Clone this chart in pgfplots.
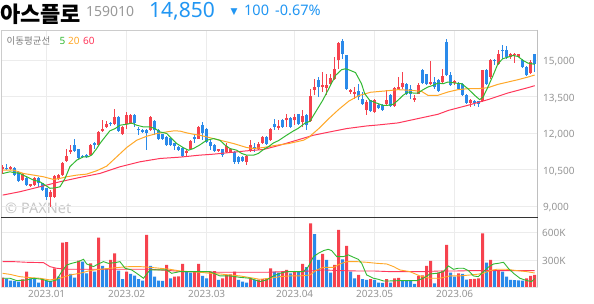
\documentclass[border=0pt]{standalone}
\usepackage{fontspec}
\setmainfont{Noto Sans}
\newfontfamily\kr{Noto Sans CJK KR}
\newfontfamily\sym{DejaVu Sans}
\usepackage{pgfplots}
\usepackage{pgfplotstable}
\pgfplotsset{compat=1.18}
\definecolor{upc}{RGB}{246,66,78}
\definecolor{dnc}{RGB}{42,138,234}
\definecolor{ma5}{RGB}{50,185,50}
\definecolor{ma20}{RGB}{255,168,40}
\definecolor{ma60}{RGB}{255,55,90}
\definecolor{gridc}{RGB}{236,236,236}
\definecolor{tickc}{RGB}{150,150,150}
\definecolor{titleblue}{RGB}{33,150,243}
\definecolor{codegray}{RGB}{153,153,153}

\pgfplotstableread{
x o h l c
-11 10510 10690 10320 10590
-9 10510 10650 10480 10620
-6 10070 10380 10030 10340
-4 9820 9920 9790 9890
-3 9860 10200 9830 10140
1 9380 9660 8970 9590
2 9380 10280 9350 10230
3 10100 10310 10060 10270
4 10270 10820 10240 10780
5 10860 11370 10820 11070
6 11230 11510 11160 11300
11 11100 11560 11060 11530
13 11510 12090 11470 12060
14 12100 12530 12060 12190
15 12260 12510 12230 12400
17 12400 13010 12330 12670
19 11960 12300 11930 12260
20 12400 12880 12190 12740
21 12400 12780 12360 12740
26 12150 12710 12110 12670
35 11190 11370 11030 11260
36 11370 11720 11340 11690
38 11780 12300 11750 12260
43 11260 11370 11230 11330
45 11230 11600 11200 11470
46 11210 11360 11170 11330
50 10820 11090 10710 11060
51 11300 11740 11230 11510
53 11330 11640 11300 11550
54 11600 11880 11570 11850
56 11710 12230 11680 12190
58 12220 12530 12120 12290
60 12530 12810 12260 12630
62 12530 12810 12330 12670
64 12470 12950 12260 12700
66 12510 13840 12470 13520
67 13800 14250 13560 13900
69 13900 14520 13700 13970
70 13880 14450 13560 13970
71 14040 14430 13970 14290
72 14250 15140 14180 14660
73 15000 15750 14660 15710
76 13700 13840 13630 13800
77 13630 13900 13430 13700
80 12950 13360 12740 13290
82 12880 13430 12850 13360
85 13220 13770 13150 13380
87 13110 13900 13080 13880
88 13800 14320 13770 13900
89 13900 14520 13840 14070
92 13360 13560 13290 13450
93 13630 14070 13600 13970
96 14040 14970 13970 14110
99 14110 14660 14040 14340
102 14070 14180 13970 14150
106 13250 13430 13080 13360
109 13330 14620 13300 14590
111 14320 15070 14250 15000
113 14860 15440 14800 15270
116 15140 15300 15070 15250
117 15210 15300 14890 15270
118 15160 15270 15140 15250
121 14480 15030 14450 14950
}\upT

\pgfplotstableread{
x o h l c
-10 10580 10750 10480 10510
-8 10580 10620 10230 10270
-7 10410 10450 10000 10040
-5 10140 10180 9830 9860
-2 10140 10210 9790 9930
-1 9930 9960 9620 9660
0 9730 9760 9250 9380
7 11510 11750 11230 11270
8 11330 11370 10950 10990
9 11060 11090 10960 11000
10 11100 11130 10960 11000
12 11580 11640 11340 11510
16 12420 12460 12300 12360
18 12670 12710 12060 12100
22 12740 12810 12260 12420
23 12190 12260 11920 12120
24 12120 12160 12020 12060
25 12120 12190 11300 12010
27 12510 12530 11920 12120
28 12150 12190 11750 11780
29 11950 11980 11750 11780
30 11850 11880 11470 11510
31 11810 11840 11470 11510
32 11580 11600 11300 11470
33 11440 11470 11270 11300
34 11410 11440 11020 11060
37 11850 11920 11580 11750
39 12330 12470 11710 11990
40 12190 12230 11610 11640
41 11640 11710 11300 11470
42 11510 11540 11240 11270
44 11330 11360 11030 11100
47 11230 11260 10750 10820
48 11030 11060 10750 10820
49 11030 11060 10830 10860
52 11440 11580 11230 11330
55 11850 11880 11510 11550
57 12400 12600 12120 12260
59 12530 12570 12230 12260
61 12640 12680 12230 12260
63 12780 12810 12340 12370
65 12740 12810 12120 12330
68 14210 14320 13490 13900
74 15820 15890 15070 15270
75 15210 15240 13800 13840
78 13760 14040 13360 13490
79 13430 13700 13150 13220
81 13360 13390 12890 12920
83 13150 13190 13020 13060
84 13150 13190 12900 12950
86 13560 13600 13080 13110
90 14040 14070 13560 13630
91 13840 13970 13430 13630
94 14620 14650 14040 14070
95 14430 14460 14010 14040
97 14110 14320 13840 13900
98 14210 14240 13710 13740
100 15750 15890 14350 14380
101 14380 14520 13930 13970
103 14070 14110 13800 13840
104 14040 14070 13560 13590
105 13560 13600 13220 13250
107 13330 13360 13110 13250
108 13320 13340 13080 13220
110 14590 14660 13970 14040
112 15030 15070 14800 14970
114 15440 15620 15070 15380
115 15410 15580 15070 15140
119 15000 15070 14700 14730
120 14730 14760 14350 14380
122 15250 15270 14520 14850
}\dnT

% volume in thousands; red = volume up, blue = volume down
\pgfplotstableread{
x v
-11 110
-6 93
-5 175
-1 96
2 211
4 486
5 490
8 293
11 264
13 539
16 300
17 371
20 175
25 568
30 246
32 121
33 125
34 257
37 175
38 257
41 175
42 180
44 104
45 139
46 145
47 175
51 104
53 90
54 95
55 104
56 211
59 175
60 193
62 175
64 257
66 693
69 364
72 246
73 621
75 450
78 139
81 96
85 96
87 104
88 108
93 129
94 135
95 236
96 289
98 164
99 186
100 461
103 157
106 95
107 98
108 102
109 586
111 300
113 190
120 104
121 129
122 139
}\vupT

\pgfplotstableread{
x v
-10 100
-9 79
-8 75
-7 68
-4 104
-3 100
-2 57
0 79
1 75
3 121
6 150
7 111
9 282
10 157
12 175
14 236
15 211
18 186
19 96
21 150
22 132
23 96
24 79
26 236
27 121
28 79
29 75
31 104
35 175
36 164
39 129
40 104
43 86
48 86
49 68
50 57
52 86
57 175
58 164
61 157
63 170
65 222
67 578
68 300
70 300
71 164
74 307
76 175
77 104
79 96
80 86
82 86
83 57
84 55
86 57
89 79
90 77
91 75
92 43
97 50
101 164
102 121
104 150
105 90
110 271
112 186
114 175
115 121
116 86
117 84
118 82
119 78
}\vdnT

\pgfplotsset{
  candle/.style={only marks, mark=*, mark size=0pt, mark options={draw=none, fill=none}, forget plot},
}

\begin{document}
\begin{tikzpicture}
\useasboundingbox (0pt,0pt) rectangle (594pt,304pt);
\fill[white] (0pt,0pt) rectangle (594pt,304pt);

% title
\node[anchor=west, inner sep=0pt] at (0pt,289.5pt) {\fontsize{22}{24}\selectfont\kr\bfseries 아스플로};
\node[anchor=base west, inner sep=0pt, text=codegray] at (86pt,287.3pt) {\fontsize{14}{16}\selectfont 159010};
\node[anchor=base west, inner sep=0pt, text=titleblue] at (149pt,286.5pt) {\fontsize{21}{24}\selectfont 14,850};
\node[anchor=center, inner sep=0pt, text=titleblue] at (234pt,292pt) {\fontsize{9}{10}\selectfont\sym ▼};
\node[anchor=base west, inner sep=0pt, text=titleblue] at (244pt,288pt) {\fontsize{14.5}{16}\selectfont 100};
\node[anchor=base west, inner sep=0pt, text=titleblue] at (275pt,288pt) {\fontsize{14.5}{16}\selectfont -0.67\%};

% watermark
\node[anchor=west, inner sep=0pt, text=black!22] at (5pt,96pt) {\fontsize{14.5}{16}\selectfont\bfseries © PAXNet};

\begin{axis}[
  at={(1pt,86.7pt)}, anchor=south west,
  width=536.7pt, height=187.3pt, scale only axis,
  xmin=-11.425, xmax=122.75, ymin=8535, ymax=16255,
  axis line style={draw=none}, major tick length=0pt,
  xtick={0,20,40,62,82,102}, xticklabels={,,,,,},
  scaled y ticks=false,
  ytick={9000,10500,12000,13500,15000},
  yticklabels={{9,000},{10,500},{12,000},{13,500},{15,000}},
  yticklabel pos=right,
  yticklabel style={anchor=west, inner sep=0pt, xshift=5.3pt, yshift=-1.5pt},
  tick label style={font=\fontsize{10}{12}\selectfont, text=tickc},
  grid=major, major grid style={color=gridc, line width=0.8pt},
]
% wicks
\addplot[candle, error bars/.cd, y dir=both, y explicit, error mark=none, error bar style={line width=1pt, color=upc}]
  table[x=x, y=c, y error plus expr=\thisrow{h}-\thisrow{c}, y error minus expr=\thisrow{c}-\thisrow{l}] {\upT};
\addplot[candle, error bars/.cd, y dir=both, y explicit, error mark=none, error bar style={line width=1pt, color=dnc}]
  table[x=x, y=c, y error plus expr=\thisrow{h}-\thisrow{c}, y error minus expr=\thisrow{c}-\thisrow{l}] {\dnT};
% bodies
\addplot[candle, error bars/.cd, y dir=plus, y explicit, error mark=none, error bar style={line width=3pt, color=upc}]
  table[x=x, y=o, y error plus expr=\thisrow{c}-\thisrow{o}, y error minus expr=0] {\upT};
\addplot[candle, error bars/.cd, y dir=plus, y explicit, error mark=none, error bar style={line width=3pt, color=dnc}]
  table[x=x, y=c, y error plus expr=\thisrow{o}-\thisrow{c}, y error minus expr=0] {\dnT};
% moving averages
\addplot[no marks, color=ma60, line width=1pt] coordinates {
(-11,9450) (-6.7,9589) (-1.7,9794) (3.3,10000) (8.3,10178) (13.3,10342) (18.3,10616) (23.3,10822) (28.3,10959) (33.3,11014) (38.2,11096) (41.7,11137) (50,11274) (54.2,11329) (58.3,11507) (62.5,11712) (66.7,11918) (70.8,12055) (75,12192) (80,12300) (82.8,12340) (87.8,12425) (92.8,12603) (97.8,12781) (100.5,12945) (105.3,13151) (110.3,13384) (115.3,13658) (120.3,13877) (122,13960)};
\addplot[no marks, color=ma20, line width=1pt] coordinates {
(-11,10480) (-8.3,10480) (-5.8,10340) (-3.3,10275) (-0.8,10205) (1.7,10095) (3.3,10137) (5,10205) (7.5,10274) (10,10315) (12.5,10452) (15,10644) (17.5,11027) (20,11411) (22.5,11712) (25,11876) (27.5,11986) (30,12055) (31.7,12096) (33.3,12090) (35,12014) (36.7,11959) (38.2,11918) (40,11849) (43.3,11712) (46.7,11575) (50,11411) (51.7,11370) (54.2,11411) (57.5,11507) (60.5,11575) (64.2,11712) (65.5,11830) (68,12190) (70.5,12600) (73,12980) (75.5,13320) (78,13550) (81,13690) (84.5,13740) (87.8,13795) (91.2,13767) (93.7,13726) (95.3,13562) (97.8,13562) (100.3,13699) (102.8,13795) (105.3,13836) (107.8,13836) (110.3,13877) (112.8,14014) (115.3,14110) (117.8,14206) (120.3,14315) (122,14400)};
\addplot[no marks, color=ma5, line width=1pt] coordinates {
(-11,10340) (-9.2,10410) (-6.7,10340) (-5,10205) (-3.3,10070) (-1.7,10000) (0,9820) (0.8,9730) (2.1,9750) (3.3,9790) (4.6,10140) (5.8,10620) (7.5,10890) (9.2,11030) (10.4,11030) (11.25,11100) (12.5,11370) (13.3,11575) (14.6,11850) (15.8,12100) (17.1,12190) (18.3,12330) (20,12370) (21.25,12420) (22.5,12330) (24.2,12260) (25.8,12260) (27.1,12190) (28.3,12055) (30,11990) (31.25,11780) (32.5,11575) (34.2,11400) (35.4,11300) (36.7,11370) (38.2,11510) (40,11710) (41.7,11780) (43.3,11710) (44.6,11510) (45.8,11370) (47.5,11300) (48.75,11165) (50,11095) (51.7,11095) (52.9,11165) (54.2,11330) (55.4,11440) (56.7,11600) (58,11700) (60,11920) (61.7,12096) (62.8,12192) (64.6,12420) (65.8,12490) (67.2,12870) (69,13356) (70.5,13830) (72.2,14380) (73.7,14617) (74.7,14658) (75.75,14600) (77.2,14500) (78.7,14041) (79.5,13630) (80.75,13356) (82.4,13247) (84,13151) (85.3,13151) (86.6,13192) (87.8,13356) (89.1,13562) (90.3,13699) (91.6,13658) (92.8,13658) (94.1,13795) (95.3,13904) (96.6,13973) (97.8,14069) (99.1,14041) (100.3,14110) (102,14069) (103.7,14041) (105.3,13836) (107,13562) (108.25,13384) (109.1,13493) (110.3,13904) (111.6,14384) (112.8,14863) (114,15069) (115.3,15137) (116.6,15206) (117.8,15164) (119.1,15000) (120.3,14890) (122,14840)};
\end{axis}

\begin{axis}[
  at={(1pt,16.5pt)}, anchor=south west,
  width=536.7pt, height=70.2pt, scale only axis,
  xmin=-11.425, xmax=122.75, ymin=5, ymax=757,
  axis line style={draw=none}, major tick length=0pt,
  xtick={0,20,40,62,82,102},
  xticklabels={2023.01,2023.02,2023.03,2023.04,2023.05,2023.06},
  xticklabel style={anchor=center, inner sep=0pt, yshift=-6.2pt},
  ytick={300,600}, yticklabels={300K,600K},
  yticklabel pos=right,
  yticklabel style={anchor=west, inner sep=0pt, xshift=4.3pt, yshift=-1pt},
  tick label style={font=\fontsize{10}{12}\selectfont, text=tickc},
  grid=major, major grid style={color=gridc, line width=0.8pt},
]
\addplot[ybar, bar width=3pt, bar shift=0pt, fill=upc, draw=none] table[x=x, y=v] {\vupT};
\addplot[ybar, bar width=3pt, bar shift=0pt, fill=dnc, draw=none] table[x=x, y=v] {\vdnT};
\addplot[no marks, color=ma60, line width=0.9pt] coordinates {
(-11,282) (-8.3,282) (-5,275) (-0.8,271) (0.8,229) (2.5,211) (5,200) (25.8,200) (28.3,193) (30.8,186) (34.2,175) (38.3,175) (42.5,168) (55,168) (59.2,175) (63.2,175) (65.8,182) (69.2,193) (73.3,186) (77.5,182) (81.7,182) (85.8,175) (94.2,175) (98.3,182) (102.5,182) (106.7,186) (122,186)};
\addplot[no marks, color=ma20, line width=0.9pt] coordinates {
(-11,157) (-9.2,146) (-6.7,121) (-4.2,111) (-1.7,104) (0.8,86) (3.3,104) (5.8,139) (8.3,157) (10.8,186) (13.3,200) (15.8,211) (18.3,221) (20.8,229) (23.3,229) (25.8,221) (28.3,211) (30.8,200) (33.3,182) (35.8,175) (38.3,168) (40.8,157) (43.3,150) (45.8,139) (48.3,129) (50.8,111) (53.3,93) (55.8,104) (58.3,121) (60.8,129) (63.3,129) (65.8,139) (67.5,193) (69.2,221) (71.7,221) (73.3,257) (75,282) (77.5,282) (80,275) (82.5,264) (85,257) (86.7,229) (88.3,193) (90.8,175) (93.3,129) (95.8,104) (98.3,104) (100.8,129) (103.3,129) (105.8,139) (107.5,146) (109.2,157) (110.8,186) (112.5,200) (115,200) (117.5,186) (120,175) (122,160)};
\addplot[no marks, color=ma5, line width=0.9pt] coordinates {
(-11,104) (-9.2,104) (-7.5,79) (-5,86) (-3.3,104) (-1.25,93) (0.8,68) (2.5,86) (3.75,175) (5,246) (6.25,264) (7.9,282) (9.2,307) (10,257) (11.7,229) (12.9,257) (14.2,282) (15.4,264) (17.1,271) (18.3,282) (19.6,211) (21.25,193) (22.5,157) (24.2,104) (25.8,193) (28.3,193) (30,193) (31.25,157) (33.3,175) (36.25,175) (40.8,175) (43.3,129) (45.8,129) (48.3,114) (50.8,104) (53.3,68) (55,86) (56.7,129) (58.3,157) (60,175) (62.5,175) (64.2,175) (65.4,229) (66.7,336) (67.9,371) (69.2,400) (70.4,414) (71.25,400) (72.5,336) (74.2,336) (75.4,354) (76.7,329) (77.9,307) (78.75,264) (80,139) (81.7,104) (82.9,93) (84.2,75) (85.8,75) (88.3,79) (90.8,79) (92.5,79) (94.2,104) (95.8,150) (97.5,157) (99.2,175) (100.4,236) (101.7,200) (102.9,211) (104.2,211) (105.4,186) (106.7,129) (107.9,121) (109.2,175) (110.4,222) (111.7,257) (112.9,264) (114.2,275) (115.4,211) (116.7,157) (118.3,104) (120,79) (121.25,68) (122,100)};
\end{axis}

% frame
\draw[color=black!20, line width=0.8pt] (1pt,16.5pt) -- (1pt,274pt) -- (537.7pt,274pt);
\draw[color=black!25, line width=0.8pt] (537.7pt,274pt) -- (537.7pt,16.5pt);
\draw[color=black!10, line width=0.6pt] (1pt,16.5pt) -- (537.7pt,16.5pt);
\draw[color=black!80, line width=1pt] (1pt,86.7pt) -- (537.7pt,86.7pt);

% MA legend
\node[anchor=west, inner sep=0pt, text=black!50] at (6.5pt,263.5pt) {\fontsize{9.5}{11}\selectfont\kr 이동평균선};
\node[anchor=west, inner sep=0pt, text=ma5] at (59.5pt,263.5pt) {\fontsize{10}{12}\selectfont 5};
\node[anchor=west, inner sep=0pt, text=ma20] at (68pt,263.5pt) {\fontsize{10}{12}\selectfont 20};
\node[anchor=west, inner sep=0pt, text=ma60] at (83pt,263.5pt) {\fontsize{10}{12}\selectfont 60};
\end{tikzpicture}
\end{document}
